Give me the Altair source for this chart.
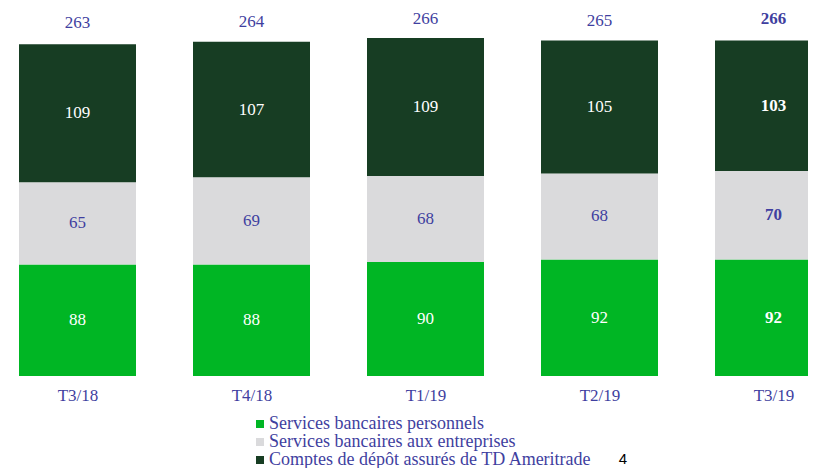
import altair as alt
import pandas as pd

categories = ["T3/18", "T4/18", "T1/19", "T2/19", "T3/19"]
series = ["Services bancaires personnels", "Services bancaires aux entreprises",
          "Comptes de dépôt assurés de TD Ameritrade"]
personnels = [88, 88, 90, 92, 92]
entreprises = [65, 69, 68, 68, 70]
ameritrade = [109, 107, 109, 105, 103]
totals = [263, 264, 266, 265, 266]
colors = ["#00B624", "#DADADC", "#173D23"]
label_colors = ["#FFFFFF", "#3F3FA0", "#FFFFFF"]

rows = []
for i, c in enumerate(categories):
    base = 0
    for j, (s, vals) in enumerate(zip(series, [personnels, entreprises, ameritrade])):
        v = vals[i]
        rows.append({"idx": i, "cat": c, "series": s, "value": v, "order": j,
                     "mid": base + v / 2, "lblcolor": label_colors[j],
                     "bold": c == categories[-1]})
        base += v
df = pd.DataFrame(rows)
tot = pd.DataFrame({"idx": list(range(len(categories))), "total": totals,
                    "bold": [c == categories[-1] for c in categories]})

BLUE = "#3F3FA0"
FONT = "Liberation Serif"
W = 789
STEP = 174.0
BARW = 117
xmin = -(BARW / 2) / STEP
xscale = alt.Scale(domain=[xmin, xmin + W / STEP], nice=False, zero=False, padding=0)
yscale = alt.Scale(domain=[0, 290.7], nice=False, padding=0)
label_expr = "[" + ",".join("'%s'" % c for c in categories) + "][datum.value]"

x = alt.X("idx:Q", scale=xscale,
          axis=alt.Axis(title=None, domain=False, ticks=False, grid=False, labelPadding=11,
                        values=list(range(len(categories))), labelExpr=label_expr,
                        labelFontSize=17, labelColor=BLUE, labelFont=FONT, labelAngle=0,
                        labelFlush=False, labelOverlap=False))
xs = alt.X("idx:Q", scale=xscale)

bars = alt.Chart(df).mark_bar(clip=False, width=BARW).encode(
    x=x,
    y=alt.Y("value:Q", stack="zero", scale=yscale, axis=None),
    color=alt.Color("series:N", scale=alt.Scale(domain=series, range=colors),
                    legend=alt.Legend(title=None, orient="none", legendX=232, legendY=407,
                                      symbolType="square", symbolSize=64, symbolStrokeWidth=0,
                                      labelFont=FONT, labelFontSize=18, labelColor=BLUE,
                                      labelOffset=0, rowPadding=0, padding=0, labelLimit=500)),
    order=alt.Order("order:Q"),
)

def seg_text(bold):
    return alt.Chart(df).transform_filter(
        alt.datum.bold if bold else ~alt.datum.bold
    ).mark_text(font=FONT, fontSize=17, fontWeight="bold" if bold else "normal", baseline="middle").encode(
        x=xs,
        y=alt.Y("mid:Q", scale=yscale),
        text=alt.Text("value:Q"),
        color=alt.Color("lblcolor:N", scale=None),
    )

def tot_text(bold):
    return alt.Chart(tot).transform_filter(
        alt.datum.bold if bold else ~alt.datum.bold
    ).mark_text(font=FONT, fontSize=17, fontWeight="bold" if bold else "normal",
                baseline="middle", dy=-20, color=BLUE).encode(
        x=xs,
        y=alt.Y("total:Q", scale=yscale),
        text=alt.Text("total:Q"),
    )

page = alt.Chart(pd.DataFrame({"t": ["4"]})).mark_text(
    font="Liberation Sans", fontSize=15, color="#000000", align="center", baseline="middle"
).encode(x=alt.value(604), y=alt.value(451), text="t:N")

chart = alt.layer(bars, seg_text(False), seg_text(True), tot_text(False), tot_text(True), page).properties(
    width=W, height=368,
    autosize=alt.AutoSizeParams(type="none"),
    padding={"left": 11, "top": 0, "right": 0, "bottom": 92},
).configure_view(stroke=None)

chart.save("out.html", embed_options={"renderer": "svg", "actions": False})
